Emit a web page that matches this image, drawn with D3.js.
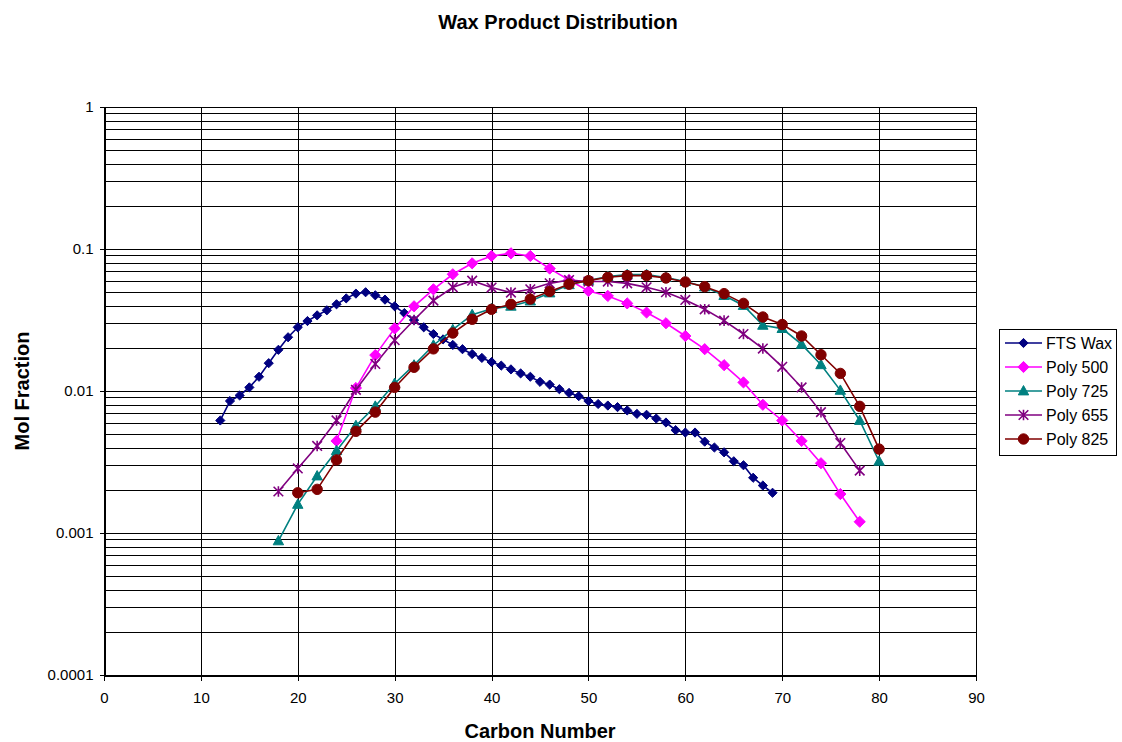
<!DOCTYPE html>
<html>
<head>
<meta charset="utf-8">
<script src="https://cdnjs.cloudflare.com/ajax/libs/d3/7.8.5/d3.min.js"></script>
<style>
  html, body { margin: 0; padding: 0; background: #fff; }
  svg { display: block; font-family: "Liberation Sans", Arial, sans-serif; }
</style>
</head>
<body>
<svg id="chart" width="1122" height="742"></svg>
<script>
// ---------------- DATA ----------------
const ftsCarbon = [12,13,14,15,16,17,18,19,20,21,22,23,24,25,26,27,28,29,30,31,32,33,34,35,36,37,38,39,40,41,42,43,44,45,46,47,48,49,50,51,52,53,54,55,56,57,58,59,60,61,62,63,64,65,66,67,68,69];
const ftsWax = [0.0062,0.0085,0.0093,0.0106,0.0126,0.0157,0.0195,0.0239,0.0281,0.0311,0.0341,0.0370,0.0408,0.0449,0.0485,0.0496,0.0472,0.0440,0.0395,0.0354,0.0316,0.0281,0.0252,0.0231,0.0211,0.0197,0.0182,0.0171,0.0160,0.0151,0.0142,0.0133,0.0126,0.0116,0.0111,0.0103,0.0097,0.0092,0.0085,0.0081,0.0079,0.0077,0.0073,0.0069,0.0068,0.0064,0.0060,0.0053,0.0051,0.0051,0.0044,0.0040,0.0037,0.0032,0.0030,0.00245,0.00216,0.00192];

const poly500Carbon = [24,26,28,30,32,34,36,38,40,42,44,46,48,50,52,54,56,58,60,62,64,66,68,70,72,74,76,78];
const poly500 = [0.00445,0.0105,0.0179,0.0276,0.0395,0.052,0.0664,0.0793,0.0893,0.0933,0.0893,0.0728,0.0605,0.0506,0.0467,0.0414,0.0357,0.0300,0.0244,0.0197,0.0152,0.0115,0.0080,0.0062,0.00445,0.0031,0.00188,0.0012];

const poly725Carbon = [18,20,22,24,26,28,30,32,34,36,38,40,42,44,46,48,50,52,54,56,58,60,62,64,66,68,70,72,74,76,78,80];
const poly725 = [0.00088,0.00159,0.00252,0.0038,0.0057,0.0078,0.0113,0.0152,0.021,0.027,0.0345,0.038,0.0395,0.043,0.049,0.056,0.060,0.064,0.066,0.066,0.063,0.059,0.054,0.047,0.040,0.029,0.0275,0.0213,0.0153,0.0101,0.0062,0.0032];

const poly655Carbon = [18,20,22,24,26,28,30,32,34,36,38,40,42,44,46,48,50,52,54,56,58,60,62,64,66,68,70,72,74,76,78];
const poly655 = [0.00196,0.00285,0.0041,0.0062,0.0102,0.0155,0.0228,0.0316,0.0433,0.0537,0.0598,0.0535,0.0493,0.052,0.0573,0.0605,0.059,0.059,0.0573,0.0537,0.0496,0.0438,0.0376,0.0313,0.0252,0.0199,0.0148,0.0106,0.0071,0.0043,0.00275];

const poly825Carbon = [20,22,24,26,28,30,32,34,36,38,40,42,44,46,48,50,52,54,56,58,60,62,64,66,68,70,72,74,76,78,80];
const poly825 = [0.00192,0.00203,0.00327,0.0052,0.0071,0.0106,0.0147,0.0198,0.0256,0.032,0.0376,0.0408,0.0444,0.0503,0.0565,0.0599,0.0632,0.0649,0.0649,0.0625,0.0586,0.0543,0.0485,0.0414,0.0332,0.0294,0.0244,0.0180,0.0133,0.0078,0.0039];

const seriesNames = ["FTS Wax","Poly 500","Poly 725","Poly 655","Poly 825"];
const xTickValues = [0,10,20,30,40,50,60,70,80,90];
const yTickValues = [0.0001,0.001,0.01,0.1,1];
const yTickLabels = ["0.0001","0.001","0.01","0.1","1"];
const chartTitle = "Wax Product Distribution";
const xTitle = "Carbon Number";
const yTitle = "Mol Fraction";

// ---------------- LAYOUT ----------------
const plot = {left: 104, right: 976, top: 107, bottom: 675};
const svg = d3.select("#chart");

const x = d3.scaleLinear().domain([0, 90]).range([plot.left, plot.right]);
const y = d3.scaleLog().domain([0.0001, 1]).range([plot.bottom, plot.top]);

const styles = [
  {color: "#000080", marker: "diamond", size: 4.6},
  {color: "#FF00FF", marker: "diamond", size: 5.6},
  {color: "#008080", marker: "triangle", size: 5.2},
  {color: "#800080", marker: "star", size: 4.8},
  {color: "#800000", marker: "circle", size: 5.2}
];

const seriesData = [
  ftsCarbon.map((c,i)=>({c, v: ftsWax[i]})),
  poly500Carbon.map((c,i)=>({c, v: poly500[i]})),
  poly725Carbon.map((c,i)=>({c, v: poly725[i]})),
  poly655Carbon.map((c,i)=>({c, v: poly655[i]})),
  poly825Carbon.map((c,i)=>({c, v: poly825[i]}))
];

// background
svg.append("rect").attr("x",0).attr("y",0).attr("width",1122).attr("height",742).attr("fill","#fff");

// gridlines
const grid = svg.append("g").attr("shape-rendering","crispEdges");
grid.selectAll("line.h").data(y.ticks()).enter().append("line")
  .attr("x1", plot.left).attr("x2", plot.right)
  .attr("y1", d => Math.round(y(d)) + 0.5).attr("y2", d => Math.round(y(d)) + 0.5)
  .attr("stroke", "#000").attr("stroke-width", 1);
grid.selectAll("line.v").data(xTickValues).enter().append("line")
  .attr("y1", plot.top).attr("y2", plot.bottom)
  .attr("x1", d => Math.round(x(d)) + 0.5).attr("x2", d => Math.round(x(d)) + 0.5)
  .attr("stroke", "#000").attr("stroke-width", 1);

// plot border
svg.append("rect")
  .attr("x", plot.left + 0.5).attr("y", plot.top + 0.5)
  .attr("width", plot.right - plot.left).attr("height", plot.bottom - plot.top)
  .attr("fill", "none").attr("stroke", "#000").attr("shape-rendering","crispEdges");

// axes
const yAxis = d3.axisLeft(y).tickValues(yTickValues)
  .tickFormat((d,i) => yTickLabels[i]).tickSize(5).tickPadding(6);
const gy = svg.append("g").attr("transform", `translate(${plot.left + 0.5},0)`).call(yAxis);
gy.selectAll("text").attr("font-size", 15).attr("fill","#000")
  .attr("font-family", '"Liberation Sans", Arial, sans-serif');
gy.selectAll("line, path").attr("stroke","#000").attr("shape-rendering","crispEdges");

const xAxis = d3.axisBottom(x).tickValues(xTickValues).tickFormat(d3.format("d")).tickSize(5).tickPadding(12);
const gx = svg.append("g").attr("transform", `translate(0,${plot.bottom + 0.5})`).call(xAxis);
gx.selectAll("text").attr("font-size", 15).attr("fill","#000")
  .attr("font-family", '"Liberation Sans", Arial, sans-serif');
gx.selectAll("line, path").attr("stroke","#000").attr("shape-rendering","crispEdges");

// marker paths
function markerPath(type, s) {
  if (type === "diamond") return `M0,${-s}L${s},0L0,${s}L${-s},0Z`;
  if (type === "triangle") return `M0,${-s*1.05}L${s},${s*0.75}L${-s},${s*0.75}Z`;
  if (type === "circle") return d3.symbol().type(d3.symbolCircle).size(Math.PI*s*s)();
  if (type === "star") return `M${-s},${-s}L${s},${s}M${-s},${s}L${s},${-s}M0,${-s*1.1}L0,${s*1.1}`;
}

const line = d3.line().x(d => x(d.c)).y(d => y(d.v));

seriesData.forEach((data, i) => {
  const st = styles[i];
  const g = svg.append("g");
  g.append("path").datum(data).attr("d", line)
    .attr("fill","none").attr("stroke", st.color).attr("stroke-width", 1.6);
  const p = markerPath(st.marker, st.size);
  g.selectAll("path.m").data(data).enter().append("path")
    .attr("class","m")
    .attr("transform", d => `translate(${x(d.c)},${y(d.v)})`)
    .attr("d", p)
    .attr("fill", st.marker === "star" ? "none" : st.color)
    .attr("stroke", st.color)
    .attr("stroke-width", st.marker === "star" ? 1.6 : 1);
});

// titles
svg.append("text").attr("x", 558).attr("y", 29).attr("text-anchor","middle")
  .attr("font-size", 20).attr("font-weight","bold").text(chartTitle);
svg.append("text").attr("x", 540).attr("y", 738).attr("text-anchor","middle")
  .attr("font-size", 20).attr("font-weight","bold").text(xTitle);
svg.append("text").attr("transform","translate(29,391) rotate(-90)").attr("text-anchor","middle")
  .attr("font-size", 20).attr("font-weight","bold").text(yTitle);

// legend
const leg = svg.append("g");
leg.append("rect").attr("x", 999.5).attr("y", 329.5).attr("width", 117).attr("height", 126)
  .attr("fill","#fff").attr("stroke","#000").attr("shape-rendering","crispEdges");
const legRowY = [343, 367, 391, 415, 439];
seriesNames.forEach((name, i) => {
  const st = styles[i];
  const yy = legRowY[i];
  leg.append("line").attr("x1", 1005).attr("x2", 1042).attr("y1", yy).attr("y2", yy)
    .attr("stroke", st.color).attr("stroke-width", 1.6);
  leg.append("path").attr("transform", `translate(1023.5,${yy})`)
    .attr("d", markerPath(st.marker, st.size))
    .attr("fill", st.marker === "star" ? "none" : st.color)
    .attr("stroke", st.color).attr("stroke-width", st.marker === "star" ? 1.6 : 1);
  leg.append("text").attr("x", 1046).attr("y", yy + 5.5).attr("font-size", 16).text(name);
});
</script>
</body>
</html>
